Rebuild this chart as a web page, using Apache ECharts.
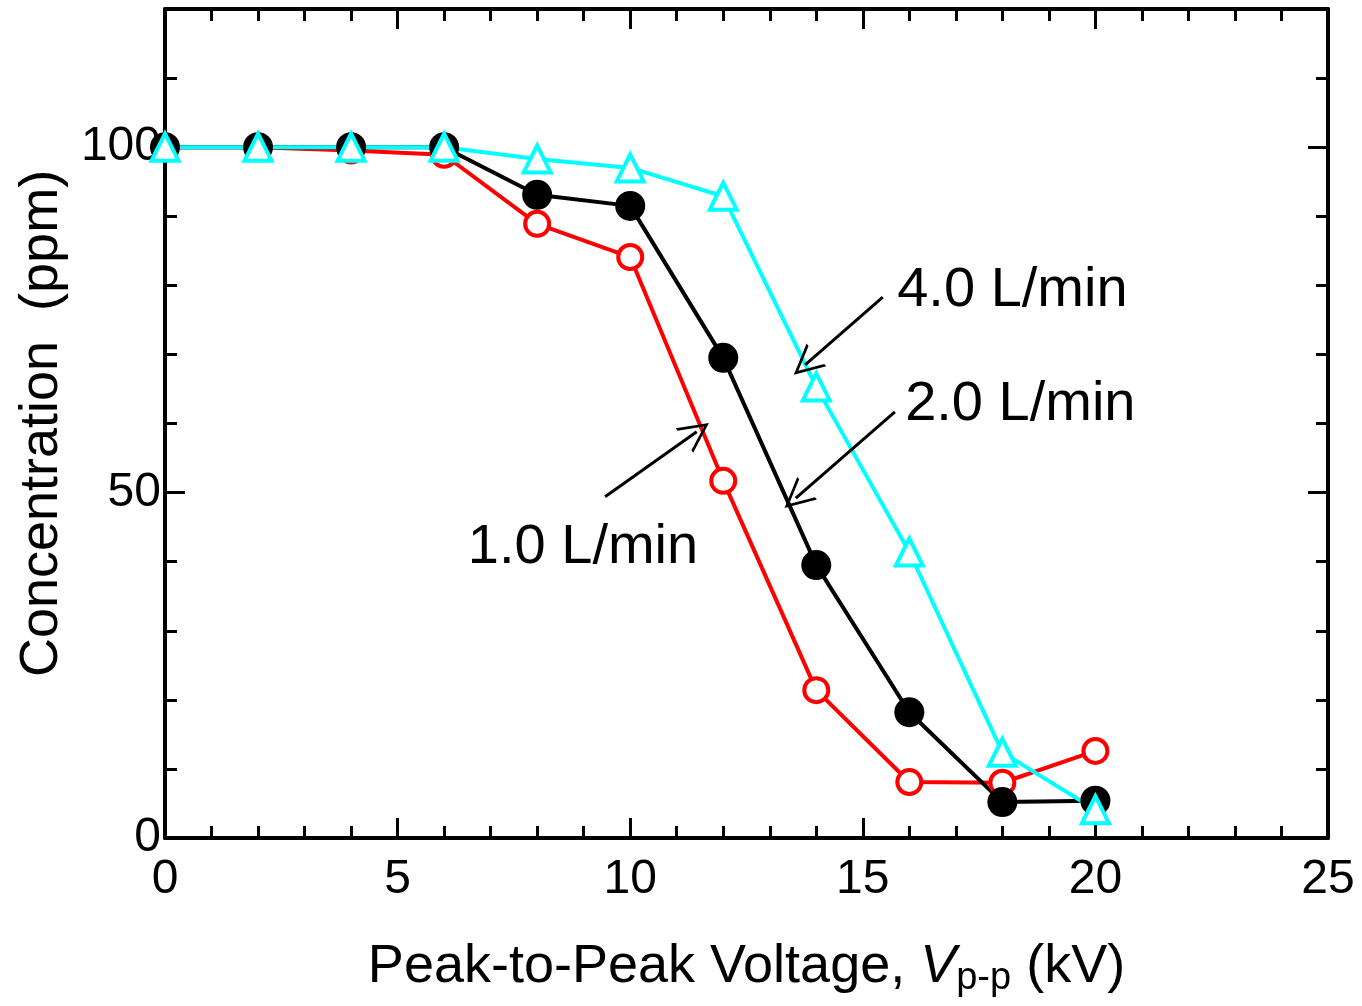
<!DOCTYPE html>
<html>
<head>
<meta charset="utf-8">
<title>Concentration vs Peak-to-Peak Voltage</title>
<script src="https://cdn.jsdelivr.net/npm/echarts@6/dist/echarts.min.js"></script>
<style>
  html, body { margin: 0; padding: 0; background: #fff; }
  #chart { width: 1362px; height: 1006px; }
</style>
</head>
<body>
<div id="chart"></div>
<script>
// voltage (kV)
const voltage = [0, 2, 4, 6, 8, 10, 12, 14, 16, 18, 20]
// concentration (ppm) for each flow rate
const flow1 = [100, 100, 99.5, 98.9, 88.9, 84.1, 51.7, 21.4, 8.1, 8.0, 12.6]
const flow2 = [100, 100, 100, 100, 93.1, 91.5, 69.5, 39.5, 18.2, 5.2, 5.4]
const flow4 = [100, 100, 100, 100, 98.3, 97.0, 92.9, 65.3, 41.4, 12.4, 4.1]
const seriesNames = ['1.0 L/min', '2.0 L/min', '4.0 L/min']
// annotation arrows: [tail, tip] in data units
const arrows = [
  [[15.43, 78.3], [13.76, 68.5]],
  [[15.69, 61.7], [13.56, 49.2]],
  [[9.46, 49.4], [11.43, 58.8]]
]
// annotation labels: left edge / vertical centre in data units
const notes = [
  {name: '4.0 L/min', coord: [15.74, 79.3]},
  {name: '2.0 L/min', coord: [15.91, 62.7]},
  {name: '1.0 L/min', coord: [6.51, 42.1]}
]

const font = '"Liberation Sans", Arial, sans-serif'
const chevron = 'path://M10,0 L20,20 L18,20 L10,4 L2,20 L0,20 Z'

function pairs(ys) {
  return voltage.map((x, i) => [x, ys[i]])
}

function xAxisDef(pos, labels) {
  return {
    type: 'value',
    position: pos,
    min: 0,
    max: 25,
    interval: 5,
    axisLine: {show: true, onZero: false, lineStyle: {color: '#000', width: 4}},
    axisTick: {show: true, inside: true, length: 20, lineStyle: {color: '#000', width: 3}},
    minorTick: {show: true, splitNumber: 5, length: 12, lineStyle: {color: '#000', width: 3}},
    splitLine: {show: false},
    axisLabel: {show: labels, color: '#000', fontFamily: font, fontSize: 48, margin: 18}
  }
}

function yAxisDef(pos, interval, len, labels, line) {
  return {
    type: 'value',
    position: pos,
    min: 0,
    max: 120,
    interval: interval,
    axisLine: {show: line, onZero: false, lineStyle: {color: '#000', width: 4}},
    axisTick: {show: true, inside: true, length: len, lineStyle: {color: '#000', width: 3}},
    splitLine: {show: false},
    axisLabel: {
      show: labels, color: '#000', fontFamily: font, fontSize: 48, margin: 4,
      formatter: v => (v % 50 === 0 && v <= 100) ? String(v) : ''
    }
  }
}

let chart = echarts.init(document.getElementById('chart'))

let xBottom = xAxisDef('bottom', true)
xBottom.name = '{a|Peak-to-Peak Voltage, }{i|V}{s|p-p}{a| (kV)}'
xBottom.nameLocation = 'middle'
xBottom.nameGap = 98
xBottom.nameTextStyle = {
  rich: {
    a: {fontFamily: font, fontSize: 54, color: '#000'},
    i: {fontFamily: font, fontSize: 54, color: '#000', fontStyle: 'italic'},
    s: {fontFamily: font, fontSize: 38, color: '#000', padding: [24, 0, 0, 0]}
  }
}

let yLeft = yAxisDef('left', 10, 12, true, true)
yLeft.name = 'Concentration  (ppm)'
yLeft.nameLocation = 'middle'
yLeft.nameGap = 96
yLeft.nameTextStyle = {fontFamily: font, fontSize: 54, color: '#000'}

let option = {
  animation: false,
  backgroundColor: '#fff',
  grid: {left: 165, right: 34, top: 9, bottom: 168, containLabel: false, outerBoundsMode: 'none'},
  xAxis: [xBottom, xAxisDef('top', false)],
  yAxis: [
    yLeft,
    yAxisDef('right', 10, 12, false, true),
    yAxisDef('left', 50, 20, false, false),
    yAxisDef('right', 50, 20, false, false)
  ],
  series: [
    {
      name: seriesNames[0],
      type: 'line',
      data: pairs(flow1),
      symbol: 'circle',
      symbolSize: 24,
      lineStyle: {color: '#ff0000', width: 4},
      itemStyle: {color: '#fff', borderColor: '#ff0000', borderWidth: 4}
    },
    {
      name: seriesNames[1],
      type: 'line',
      data: pairs(flow2),
      symbol: 'circle',
      symbolSize: 30,
      lineStyle: {color: '#000', width: 4},
      itemStyle: {color: '#000', borderWidth: 0},
      markLine: {
        silent: true,
        symbol: ['none', chevron],
        symbolSize: 30,
        label: {show: false},
        lineStyle: {color: '#000', width: 3, type: 'solid'},
        data: arrows.map(a => [{coord: a[0]}, {coord: a[1]}])
      },
      markPoint: {
        silent: true,
        symbol: 'circle',
        symbolSize: 0,
        label: {
          show: true, position: 'right', distance: 0, formatter: '{b}',
          color: '#000', fontFamily: font, fontSize: 56
        },
        data: notes
      }
    },
    {
      name: seriesNames[2],
      type: 'line',
      data: pairs(flow4),
      symbol: 'triangle',
      symbolSize: 27,
      lineStyle: {color: '#00ffff', width: 4},
      itemStyle: {color: '#fff', borderColor: '#00ffff', borderWidth: 4}
    }
  ]
}
chart.setOption(option)
</script>
</body>
</html>
